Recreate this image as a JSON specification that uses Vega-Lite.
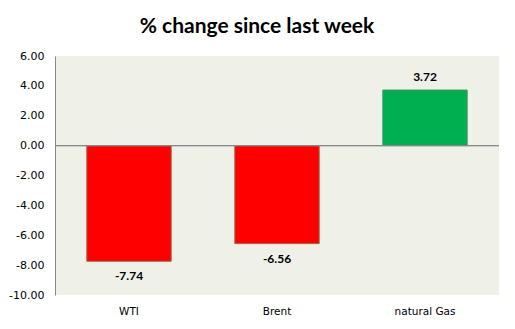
{
  "$schema": "https://vega.github.io/schema/vega-lite/v6.json",
  "width": 444,
  "height": 239,
  "autosize": "none",
  "padding": {"left": 55, "top": 56, "right": 16, "bottom": 34},
  "background": "white",
  "title": {
    "text": "% change since last week",
    "font": "Lato",
    "fontSize": 21,
    "fontWeight": "bold",
    "color": "#000000",
    "anchor": "middle",
    "dx": -20,
    "offset": 13
  },
  "config": {
    "locale": {"number": {"decimal": ".", "thousands": ",", "grouping": [3], "currency": ["$", ""], "minus": "-"}},
    "view": {"stroke": null, "fill": "#EFF1E9"},
    "axis": {"labelFont": "DejaVu Sans", "labelFontSize": 11, "labelColor": "#000000", "grid": false, "title": null}
  },
  "data": {
    "values": [
      {"name": "WTI", "value": -7.74},
      {"name": "Brent", "value": -6.56},
      {"name": "natural Gas", "value": 3.72}
    ]
  },
  "encoding": {
    "x": {
      "field": "name",
      "type": "nominal",
      "sort": null,
      "scale": {"paddingInner": 0.43, "paddingOuter": 0.215},
      "axis": {"labelAngle": 0, "domain": false, "ticks": false, "labelPadding": 11, "labelFontSize": 10.5}
    },
    "y": {
      "field": "value",
      "type": "quantitative",
      "scale": {"domain": [-10, 6], "nice": false, "zero": false},
      "axis": {"values": [-10, -8, -6, -4, -2, 0, 2, 4, 6], "format": ".2f", "domain": true, "domainColor": "#888888", "ticks": false, "labelPadding": 11}
    }
  },
  "layer": [
    {
      "mark": {"type": "bar", "strokeWidth": 1},
      "encoding": {
        "color": {"condition": {"test": "datum.value < 0", "value": "#FF0000"}, "value": "#00B050"},
        "stroke": {"condition": {"test": "datum.value < 0", "value": "#9A6A3A"}, "value": "#4A9060"}
      }
    },
    {
      "mark": {"type": "rule", "color": "#888888", "strokeWidth": 1},
      "encoding": {"y": {"datum": 0}, "x": {"value": 0}, "x2": {"value": 444}}
    },
    {
      "transform": [{"filter": "datum.value < 0"}],
      "mark": {"type": "text", "baseline": "top", "dy": 10, "font": "Lato", "fontWeight": "bold", "fontSize": 12, "color": "#000000"},
      "encoding": {"text": {"field": "value", "format": ".2f"}}
    },
    {
      "transform": [{"filter": "datum.value >= 0"}],
      "mark": {"type": "text", "baseline": "bottom", "dy": -6, "font": "Lato", "fontWeight": "bold", "fontSize": 12, "color": "#000000"},
      "encoding": {"text": {"field": "value", "format": ".2f"}}
    }
  ]
}
